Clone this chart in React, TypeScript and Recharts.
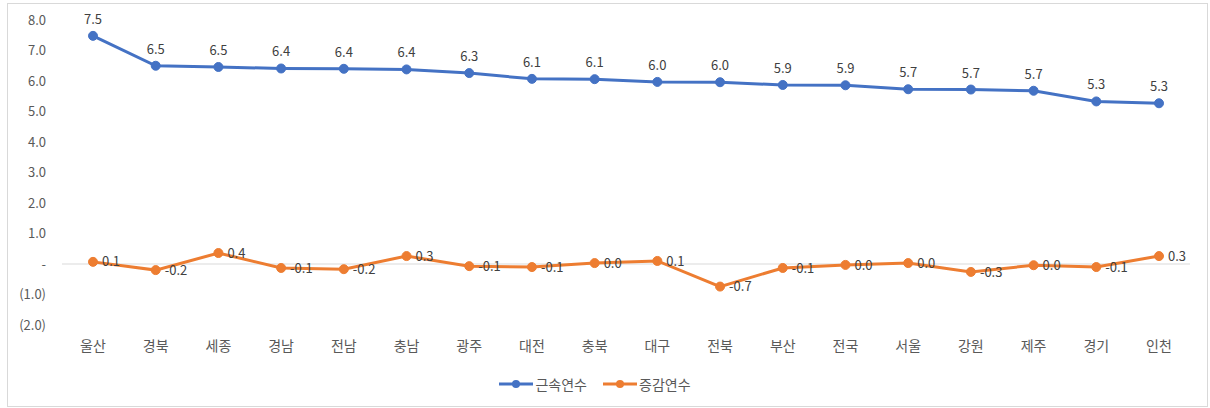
import { LineChart, Line, XAxis, YAxis, ReferenceLine, Legend, LabelList } from 'recharts'

const regions = ['울산', '경북', '세종', '경남', '전남', '충남', '광주', '대전', '충북', '대구', '전북', '부산', '전국', '서울', '강원', '제주', '경기', '인천']
const tenure = [7.48, 6.5, 6.46, 6.41, 6.4, 6.38, 6.26, 6.07, 6.06, 5.97, 5.96, 5.87, 5.86, 5.73, 5.72, 5.68, 5.33, 5.27]
const change = [0.07, -0.2, 0.36, -0.13, -0.17, 0.26, -0.07, -0.1, 0.03, 0.1, -0.74, -0.13, -0.03, 0.03, -0.26, -0.04, -0.1, 0.26]
const yTicks = [-2, -1, 0, 1, 2, 3, 4, 5, 6, 7, 8]

const seriesInfo = [
  { key: 'tenure', name: '근속연수', color: '#4472C4' },
  { key: 'change', name: '증감연수', color: '#ED7D31' },
]

const data = regions.map((r, i) => ({ region: r, tenure: tenure[i], change: change[i] }))

const FONT = '"Noto Sans CJK KR", "Noto Sans", sans-serif'

const fmtY = (v: number) => (v === 0 ? '-' : v < 0 ? `(${Math.abs(v).toFixed(1)})` : v.toFixed(1))
const fmtLabel = (v: any) => {
  const s = Number(v).toFixed(1)
  return s === '-0.0' ? '0.0' : s
}

// legend drawn like excel's line+marker swatch
const renderLegend = () => (
  <div style={{ display: 'flex', justifyContent: 'center', alignItems: 'center', gap: 16, height: 25, fontFamily: FONT, fontSize: 14, color: '#595959' }}>
    {seriesInfo.map(s => (
      <div key={s.key} style={{ display: 'flex', alignItems: 'center', gap: 2 }}>
        <svg width={34} height={10}>
          <line x1={0} y1={5} x2={34} y2={5} stroke={s.color} strokeWidth={3} />
          <circle cx={17} cy={5} r={4} fill={s.color} />
        </svg>
        <span>{s.name}</span>
      </div>
    ))}
  </div>
)

export default function App() {
  return (
    <div style={{ position: 'fixed', left: 0, top: 0, width: 1210, height: 408, background: '#fff' }}>
      <div style={{ position: 'absolute', left: 7, top: 3, width: 1199, height: 402, border: '1px solid #d9d9d9' }} />
      <div style={{ position: 'absolute', left: 0, top: 0 }}>
        <LineChart width={1210} height={408} data={data} margin={{ top: 20, right: 20, bottom: 12, left: 0 }}>
          <XAxis
            dataKey="region"
            axisLine={false}
            tickLine={false}
            tickSize={0}
            tickMargin={16}
            height={46}
            interval={0}
            padding={{ left: 31, right: 31 }}
            tick={{ fontSize: 14, fill: '#595959', fontFamily: FONT }}
          />
          <YAxis
            domain={[-2, 8]}
            ticks={yTicks}
            tickFormatter={fmtY}
            axisLine={false}
            tickLine={false}
            tickSize={0}
            tickMargin={16}
            width={62}
            tick={{ fontSize: 13, fill: '#595959', fontFamily: FONT }}
          />
          <ReferenceLine y={0} stroke="#d9d9d9" strokeWidth={1} />
          <Legend verticalAlign="bottom" content={renderLegend} />
          <Line
            dataKey="tenure"
            name="근속연수"
            stroke="#4472C4"
            strokeWidth={3}
            dot={{ r: 4.5, fill: '#4472C4', stroke: '#4472C4', strokeWidth: 1 }}
            activeDot={false}
            isAnimationActive={false}
          >
            <LabelList dataKey="tenure" position="top" offset={12} formatter={fmtLabel} style={{ fontSize: 13, fill: '#404040', fontFamily: FONT }} />
          </Line>
          <Line
            dataKey="change"
            name="증감연수"
            stroke="#ED7D31"
            strokeWidth={3}
            dot={{ r: 4.5, fill: '#ED7D31', stroke: '#ED7D31', strokeWidth: 1 }}
            activeDot={false}
            isAnimationActive={false}
          >
            <LabelList dataKey="change" position="right" offset={9} formatter={fmtLabel} style={{ fontSize: 13, fill: '#404040', fontFamily: FONT }} />
          </Line>
        </LineChart>
      </div>
    </div>
  )
}
